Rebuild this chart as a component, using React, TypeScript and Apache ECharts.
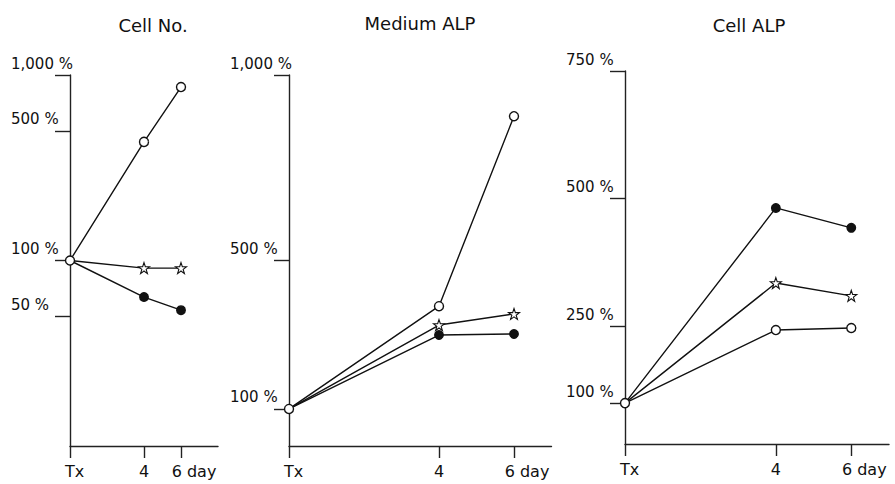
import React, { useEffect, useRef } from "react";
import * as echarts from "echarts";

const days = [0, 4, 6];
const dayTicks = [0, 4, 6];

const cellNoTicks = [50, 100, 500, 1000];
const mediumTicks = [100, 500, 1000];
const cellAlpTicks = [100, 250, 500, 750];

const cellNoOpen = [100, 436, 861];
const cellNoStar = [100, 91, 91];
const cellNoFilled = [100, 63.5, 54];

const mediumOpen = [100, 377, 889];
const mediumStar = [100, 326, 356];
const mediumFilled = [100, 299, 302];

const cellAlpFilled = [100, 482, 443];
const cellAlpStar = [100, 335, 310];
const cellAlpOpen = [100, 243, 247];

const titles = ["Cell No.", "Medium ALP", "Cell ALP"];

const STAR =
  "path://M50,2 L61.5,36 L97,36 L68.5,57.5 L79,92 L50,71 L21,92 L31.5,57.5 L3,36 L38.5,36 Z";

const FONT = "DejaVu Sans";
const INK = "#111";

function pctLabel(v: number) {
  return v === 1000 ? "1,000 %" : v + " %";
}

function dayLabel(v: number) {
  if (v === 0) return "{t|Tx}";
  if (v === 4) return "{f|4}";
  if (v === 6) return "{s|6 day}";
  return "";
}

function makeX(gridIndex: number, max: number) {
  return {
    type: "value",
    gridIndex,
    min: 0,
    max,
    axisLine: { show: true, onZero: false, lineStyle: { color: "#222", width: 1.4 } },
    axisTick: { show: true, length: 12, customValues: dayTicks, lineStyle: { color: "#222", width: 1.4 } },
    axisLabel: {
      show: true,
      customValues: dayTicks,
      formatter: dayLabel,
      margin: 17,
      color: INK,
      fontFamily: FONT,
      fontSize: 16,
      rich: {
        t: { fontFamily: FONT, fontSize: 16, color: INK, padding: [0, 0, 0, 9] },
        f: { fontFamily: FONT, fontSize: 16, color: INK },
        s: { fontFamily: FONT, fontSize: 16, color: INK, padding: [0, 0, 0, 26] },
      },
    },
    splitLine: { show: false },
  };
}

function makeY(gridIndex: number, type: string, min: number, max: number, ticks: number[]) {
  return {
    type,
    gridIndex,
    min,
    max,
    logBase: 10,
    axisLine: { show: true, onZero: false, lineStyle: { color: "#222", width: 1.4 } },
    axisTick: { show: true, length: 15, customValues: ticks, lineStyle: { color: "#222", width: 1.4 } },
    axisLabel: {
      show: true,
      customValues: ticks,
      formatter: pctLabel,
      align: "left",
      verticalAlign: "bottom",
      padding: [0, 0, 4, 0],
      margin: 59,
      color: INK,
      fontFamily: FONT,
      fontSize: 15,
    },
    splitLine: { show: false },
  };
}

type Kind = "open" | "star" | "filled";

function makeSeries(idx: number, vals: number[], kind: Kind) {
  const data = days.map((d, i) => {
    const item: any = { value: [d, vals[i]] };
    if (i === 0 && kind !== "open") item.symbol = "none";
    return item;
  });
  return {
    type: "line",
    xAxisIndex: idx,
    yAxisIndex: idx,
    data,
    symbol: kind === "star" ? STAR : "circle",
    symbolSize: kind === "star" ? 11 : kind === "open" ? 9 : 8.5,
    showAllSymbol: true,
    z: kind === "open" ? 5 : 3,
    lineStyle: { color: INK, width: 1.4 },
    itemStyle: {
      color: kind === "filled" ? INK : "#fff",
      borderColor: INK,
      borderWidth: kind === "star" ? 1.1 : 1.4,
    },
    emphasis: { disabled: true },
    silent: true,
  };
}

export default function App() {
  const ref = useRef<HTMLDivElement>(null);
  useEffect(() => {
    if (!ref.current) return;
    const chart = echarts.init(ref.current, null, { renderer: "svg" });
    const option: any = {
      animation: false,
      backgroundColor: "#fff",
      title: [
        { text: titles[0], left: 148, top: 11, textAlign: "center" },
        { text: titles[1], left: 415, top: 9, textAlign: "center" },
        { text: titles[2], left: 744, top: 11, textAlign: "center" },
      ].map((t) => ({
        ...t,
        textStyle: { fontFamily: FONT, fontSize: 18, fontWeight: "normal", color: INK },
      })),
      grid: [
        { left: 70, top: 75, width: 148, height: 371 },
        { left: 289, top: 75, width: 262.5, height: 371 },
        { left: 625, top: 71, width: 264, height: 373 },
      ],
      xAxis: [makeX(0, 8), makeX(1, 7), makeX(2, 7)],
      yAxis: [
        makeY(0, "log", 10, 1000, cellNoTicks),
        makeY(1, "value", 0, 1000, mediumTicks),
        makeY(2, "value", 20, 750, cellAlpTicks),
      ],
      series: [
        makeSeries(0, cellNoStar, "star"),
        makeSeries(0, cellNoFilled, "filled"),
        makeSeries(0, cellNoOpen, "open"),
        makeSeries(1, mediumStar, "star"),
        makeSeries(1, mediumFilled, "filled"),
        makeSeries(1, mediumOpen, "open"),
        makeSeries(2, cellAlpFilled, "filled"),
        makeSeries(2, cellAlpStar, "star"),
        makeSeries(2, cellAlpOpen, "open"),
      ],
    };
    chart.setOption(option);
    return () => chart.dispose();
  }, []);
  return (
    <div
      ref={ref}
      style={{ position: "fixed", left: 0, top: 0, width: 895, height: 484, background: "#fff" }}
    />
  );
}
